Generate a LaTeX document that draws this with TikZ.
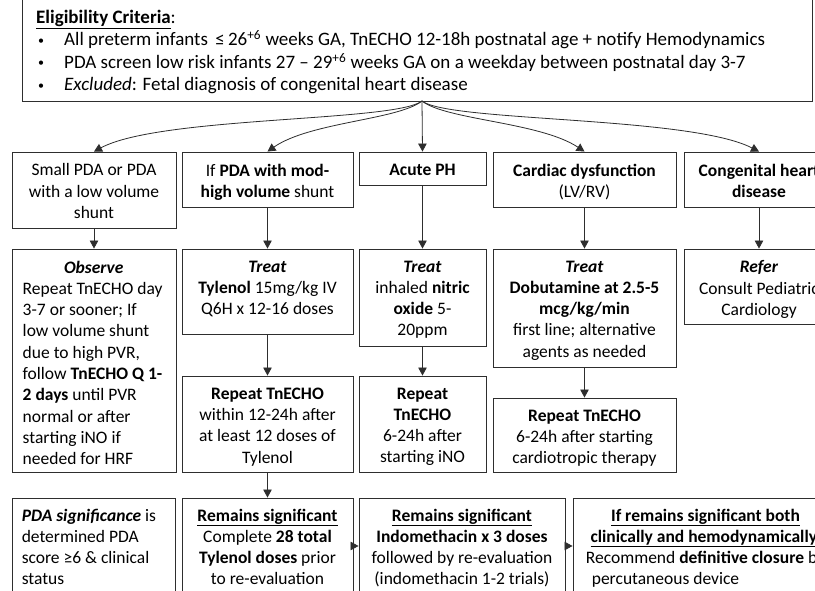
\documentclass[tikz,border=0pt]{standalone}
\usepackage{fontspec}
\setmainfont{Carlito}
\usetikzlibrary{arrows.meta,fit}
\definecolor{linecol}{HTML}{2E2E2E}
\newcommand{\fs}{\fontsize{17.5}{21.3}\selectfont}
\newcommand{\fsbig}{\fontsize{19}{22.4}\selectfont}
\newcommand{\hd}[1]{\textbf{\textit{#1}}}
\newcommand{\ul}[1]{\underline{\textbf{#1}}}
\newcommand{\bul}{\makebox[28pt][l]{\hspace*{2pt}\raisebox{1.5pt}{\fontsize{12}{12}\selectfont •}}}
\begin{document}
\begin{tikzpicture}[x=1pt,y=-1pt,font=\fs,
  box/.style={draw=linecol, line width=0.9pt, inner sep=0pt},
  txt/.style={anchor=north, align=center, inner sep=0pt},
  ltxt/.style={anchor=north west, align=left, inner sep=0pt},
  arr/.style={draw=linecol, line width=0.8pt, -{Triangle[length=8pt,width=8.5pt]}}]
\clip (0,0) rectangle (815,591);
\fill[white] (0,0) rectangle (815,591);

% eligibility criteria
\node[box, fit={(22,-10) (812,101)}] (crit) {};
\node[ltxt, font=\fsbig] (crit-t) at (36,10) {%
  \ul{Eligibility Criteria}:\\
  \bul All preterm infants \,≤\,26\textsuperscript{+6} weeks GA, TnECHO 12-18h postnatal age + notify Hemodynamics\\
  \bul PDA screen low risk infants 27 – 29\textsuperscript{+6} weeks GA on a weekday between postnatal day 3-7\\
  \bul \textit{Excluded}: Fetal diagnosis of congenital heart disease};
\coordinate (fan) at (422,101);

% row 1: findings
\node[box, fit={(12,152) (176,228)}] (a1) {};
\node[box, fit={(182,152) (353,207)}] (a2) {};
\node[box, fit={(359,152) (486,185)}] (a3) {};
\node[box, fit={(493,152) (676,207)}] (a4) {};
\node[box, fit={(684,152) (834,207)}] (a5) {};
\node[txt] at ([yshift=-12pt]a1.north) {Small PDA or PDA\\with a low volume\\shunt};
\node[txt] at ([yshift=-12pt]a2.north) {If \textbf{PDA with mod-}\\\textbf{high volume} shunt};
\node[txt] at ([yshift=-12pt]a3.north) {\textbf{Acute PH}};
\node[txt] at ([yshift=-12pt]a4.north) {\textbf{Cardiac dysfunction}\\(LV/RV)};
\node[txt] at ([yshift=-12pt]a5.north) {\textbf{Congenital heart}\\\textbf{disease}};

% row 2: management
\node[box, fit={(12,249) (176,472)}] (b1) {};
\node[box, fit={(182,249) (353,334)}] (b2) {};
\node[box, fit={(359,249) (486,346)}] (b3) {};
\node[box, fit={(493,249) (676,367)}] (b4) {};
\node[box, fit={(684,249) (834,324)}] (b5) {};
\node[ltxt] at ([xshift=11pt,yshift=-12pt]b1.north west) {%
  \makebox[142pt][c]{\hd{Observe}}\\
  Repeat TnECHO day\\3-7 or sooner; If\\low volume shunt\\due to high PVR,\\
  follow \textbf{TnECHO Q 1-}\\\textbf{2 days} until PVR\\normal or after\\starting iNO if\\needed for HRF};
\node[txt] at ([yshift=-12pt]b2.north) {\hd{Treat}\\\textbf{Tylenol} 15mg/kg IV\\Q6H x 12-16 doses};
\node[txt] at ([yshift=-12pt]b3.north) {\hd{Treat}\\inhaled \textbf{nitric}\\\textbf{oxide} 5-\\20ppm};
\node[txt] at ([yshift=-12pt]b4.north) {\hd{Treat}\\\textbf{Dobutamine at 2.5-5}\\\textbf{mcg/kg/min}\\first line; alternative\\agents as needed};
\node[txt] at ([yshift=-12pt]b5.north) {\hd{Refer}\\Consult Pediatric\\Cardiology};

% row 3: follow-up echo
\node[box, fit={(182,376) (353,472)}] (c2) {};
\node[box, fit={(359,376) (486,472)}] (c3) {};
\node[box, fit={(493,398) (676,472)}] (c4) {};
\node[txt] at ([yshift=-12pt]c2.north) {\textbf{Repeat TnECHO}\\within 12-24h after\\at least 12 doses of\\Tylenol};
\node[txt] at ([yshift=-12pt]c3.north) {\textbf{Repeat}\\\textbf{TnECHO}\\6-24h after\\starting iNO};
\node[txt] at ([yshift=-12pt]c4.north) {\textbf{Repeat TnECHO}\\6-24h after starting\\cardiotropic therapy};

% row 4: persistent shunt
\node[box, fit={(12,498) (175,594)}] (d1) {};
\node[box, fit={(182,498) (353,594)}] (d2) {};
\node[box, fit={(359,498) (565,594)}] (d3) {};
\node[box, fit={(573,498) (838,594)}] (d4) {};
\node[ltxt] at ([xshift=10pt,yshift=-11pt]d1.north west) {\hd{PDA significance} is\\determined PDA\\score ≥6 \& clinical\\status};
\node[txt] at ([yshift=-11pt]d2.north) {\ul{Remains significant}\\Complete \textbf{28 total}\\\textbf{Tylenol doses} prior\\to re-evaluation};
\node[txt] at ([yshift=-11pt]d3.north) {\ul{Remains significant}\\\textbf{Indomethacin x 3 doses}\\followed by re-evaluation\\(indomethacin 1-2 trials)};
\node[txt] at ([yshift=-11pt]d4.north) {\ul{If remains significant both}\\\ul{clinically and hemodynamically,}\\Recommend \textbf{definitive closure} by\\percutaneous device\hspace*{80pt}};

% fan-out from the criteria
\draw[arr] (fan) .. controls (395,122) and (160,116) .. (a1.north);
\draw[arr] (fan) .. controls (398,120) and (310,122) .. (a2.north);
\draw[arr] (fan) -- (a3.north);
\draw[arr] (fan) .. controls (446,120) and (540,122) .. (a4.north);
\draw[arr] (fan) .. controls (449,122) and (690,116) .. (a5.north);

% vertical flow
\draw[arr] (a1.south) -- (b1.north);
\draw[arr] (a2.south) -- (b2.north);
\draw[arr] (a3.south) -- (b3.north);
\draw[arr] (a4.south) -- (b4.north);
\draw[arr] (a5.south) -- (b5.north);
\draw[arr] (b2.south) -- (c2.north);
\draw[arr] (b3.south) -- (c3.north);
\draw[arr] (b4.south) -- (c4.north);
\draw[arr] (c2.south) -- (d2.north);

% escalation
\draw[arr] (d2.east) -- (d3.west);
\draw[arr] (d3.east) -- (d4.west);
\end{tikzpicture}
\end{document}
